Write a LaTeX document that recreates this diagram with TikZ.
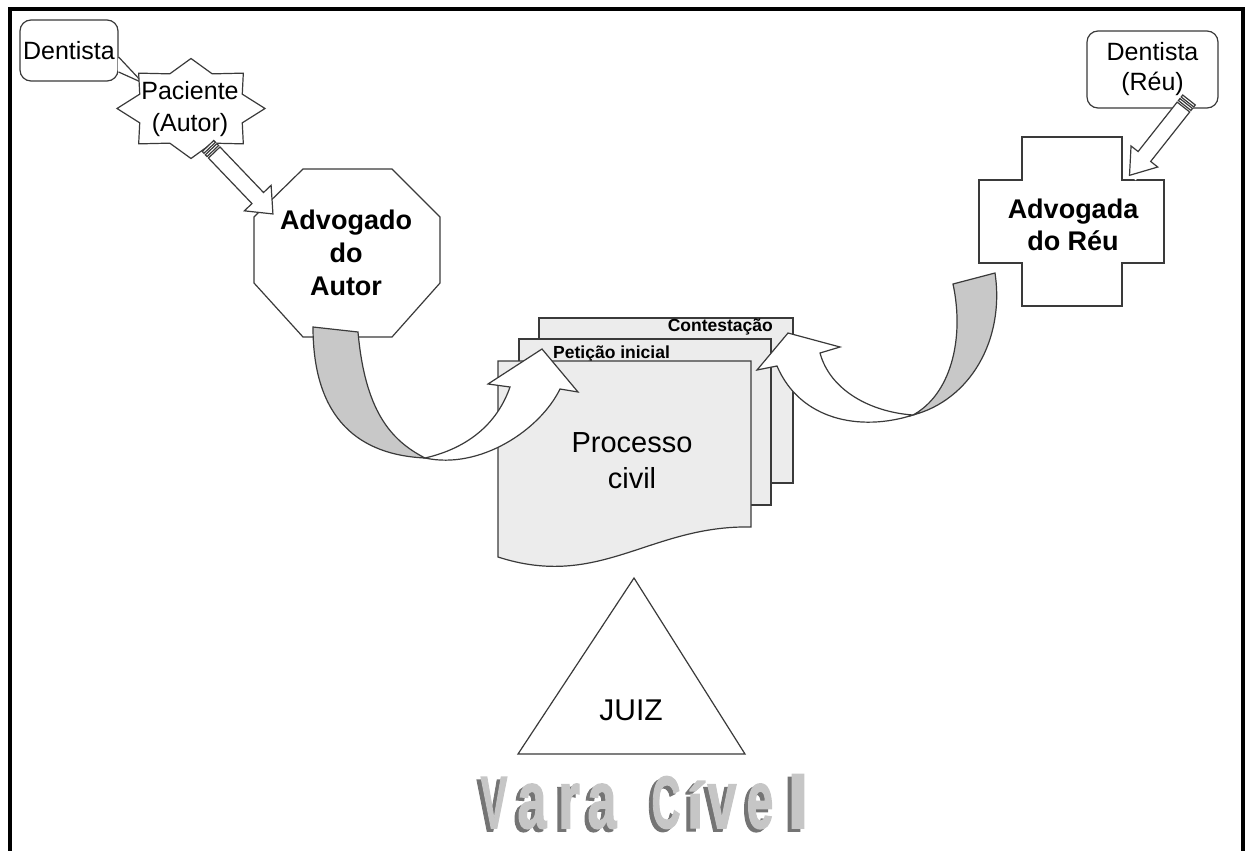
\documentclass[tikz,border=0pt]{standalone}
\usepackage{fontspec}
\setmainfont{Liberation Sans}
\newfontface\vcfont[FakeBold=2]{Liberation Sans Bold}
\usetikzlibrary{calc}
\definecolor{linecol}{HTML}{3A3A3A}
\definecolor{pagefill}{HTML}{ECECEC}
\definecolor{bandfill}{HTML}{C8C8C8}
\definecolor{vcface}{HTML}{C6C6C6}
\definecolor{vcshadow}{HTML}{747474}
\newcommand\fsz[2]{\fontsize{#1}{#2}\selectfont}
% a title letter with its dark extrusion down and to the left
\newcommand\vcglyph[3]{\rlap{\kern-4pt\raisebox{-3pt}{\color{vcshadow}\scalebox{#1}[#2]{#3}}}\scalebox{#1}[#2]{#3}}
\begin{document}
\begin{tikzpicture}[x=1pt,y=-1pt,
  outline/.style={draw=linecol, line width=1.2pt},
  rbox/.style={outline, fill=white, rounded corners=11pt, inner sep=0pt, align=center},
  label/.style={inner sep=0pt, align=center},
  vcl/.style={inner sep=0pt, anchor=base, text=vcface, font=\vcfont\fsz{40}{40}}]
\useasboundingbox (0,0) rectangle (1248,851);
\clip (0,0) rectangle (1248,851);

% outer frame
\draw[line width=4pt] (10,9) rectangle (1243,900);

% ---------- plaintiff side ----------
\node[rbox, minimum width=98pt, minimum height=61pt, font=\fsz{25}{30}] (dentA) at (69,50.5) {Dentista};
\coordinate (tipA) at (143,83);
\fill[white] ($(dentA.east)+(-0.8,7.2)$) -- (tipA) -- ($(dentA.east)+(-0.8,20.8)$) -- cycle;
\draw[outline] ($(dentA.east)+(0,6.5)$) -- (tipA) -- ($(dentA.east)+(0,21.5)$);

% eight-pointed seal
\path[outline, fill=white] (265,108.5)
  \foreach \k in {1,...,15} { -- ({191+74*(iseven(\k)?1:0.75)*cos(22.5*\k)}, {108.5-50*(iseven(\k)?1:0.75)*sin(22.5*\k)}) } -- cycle;
\node[label, font=\fsz{25}{32}] (pac) at (190,109.5) {Paciente\\(Autor)};

% octagon
\draw[outline, fill=white] (303,169) -- (392,169) -- (440,217) -- (440,283) -- (392,337) -- (303,337) -- (254,283) -- (254,217) -- cycle;
\node[label, font=\fsz{27}{33}\bfseries] (advA) at (346,253) {Advogado\\do\\Autor};

% striped arrow patient -> lawyer
\begin{scope}[shift={(208,146)}, rotate=-46.3]
  \fill[white] (0,-8) rectangle (94,8);
  \draw[outline, fill=white] (0,-8) rectangle (2.5,8);
  \draw[outline, fill=white] (4.5,-8) rectangle (7,8);
  \draw[outline, fill=white] (9,-8) -- (72,-8) -- (72,-18.5) -- (94,0) -- (72,18.5) -- (72,8) -- (9,8) -- cycle;
\end{scope}

% ---------- defendant side ----------
\node[rbox, minimum width=131pt, minimum height=77pt, font=\fsz{25}{30}] (dentR) at (1152.5,69.5) {Dentista\\(Réu)};

\draw[outline, fill=white] (1022,137) -- (1122,137) -- (1122,180) -- (1164,180) -- (1164,263) -- (1122,263) -- (1122,306) -- (1022,306) -- (1022,263) -- (979,263) -- (979,180) -- (1022,180) -- cycle;
\node[label, font=\fsz{27}{32}\bfseries] (advR) at (1073,225) {Advogada\\do Réu};

\begin{scope}[shift={(1189,100)}, rotate=-128.3]
  \fill[white] (0,-8) rectangle (96,8);
  \draw[outline, fill=white] (0,-8) rectangle (2.5,8);
  \draw[outline, fill=white] (4.5,-8) rectangle (7,8);
  \draw[outline, fill=white] (9,-8) -- (72,-8) -- (72,-17) -- (96,0) -- (72,17) -- (72,8) -- (9,8) -- cycle;
\end{scope}

% ---------- case file ----------
\draw[outline, fill=pagefill] (539,318) rectangle (793,483);
\node[label, anchor=base east, font=\fsz{17.5}{20}\bfseries] (cont) at (773,331) {Contestação};
\draw[outline, fill=pagefill] (519,339) rectangle (771,505);
\node[label, anchor=base west, font=\fsz{17.5}{20}\bfseries] (pet) at (553,358) {Petição inicial};
\draw[outline, fill=pagefill] (498,361) -- (751,361) -- (751,527) .. controls (650,525) and (600,590) .. (498,557) -- cycle;
\node[label, font=\fsz{29}{36}] (proc) at (632,461) {Processo\\civil};

% curved arrow, plaintiff lawyer -> initial petition
\coordinate (cA) at (425,458);
\draw[outline, fill=bandfill] (313,327) -- (358,332) .. controls (365,410) and (390,440) .. (cA)
  .. controls (360,455) and (313,420) .. (313,327) -- cycle;
\draw[outline, fill=white] (cA) .. controls (480,470) and (540,430) .. (560,389) -- (578,392) -- (542,349) -- (488,384) -- (510,387)
  .. controls (495,430) and (460,450) .. (cA) -- cycle;

% curved arrow, defendant lawyer -> answer
\coordinate (cR) at (913,415);
\draw[outline, fill=bandfill] (953,284) -- (995,273) .. controls (1005,340) and (970,400) .. (cR)
  .. controls (950,395) and (965,340) .. (953,284) -- cycle;
\draw[outline, fill=white] (cR) .. controls (860,432) and (800,420) .. (777,366) -- (757,370) -- (788,333) -- (840,347) -- (820,353)
  .. controls (830,390) and (870,412) .. (cR) -- cycle;

% ---------- judge ----------
\draw[outline, fill=white] (634,578) -- (745,754) -- (518,754) -- cycle;
\node[label, anchor=base, font=\fsz{30}{36}] (juiz) at (631,720) {JUIZ};

% ---------- court title ----------
\foreach \x/\c/\sx/\sy in {494/V/1.0/1.85, 532/a/1.3/2.05, 569/r/1.4/2.05, 602/a/1.3/2.05, 666/C/1.0/1.85, 695/í/1.5/1.6, 722/v/1.3/2.05, 760/e/1.2/2.05, 798/l/2.0/1.85} {
  \node[vcl] (vc-\x) at (\x,828) {\vcglyph{\sx}{\sy}{\c}};
}
\end{tikzpicture}
\end{document}
